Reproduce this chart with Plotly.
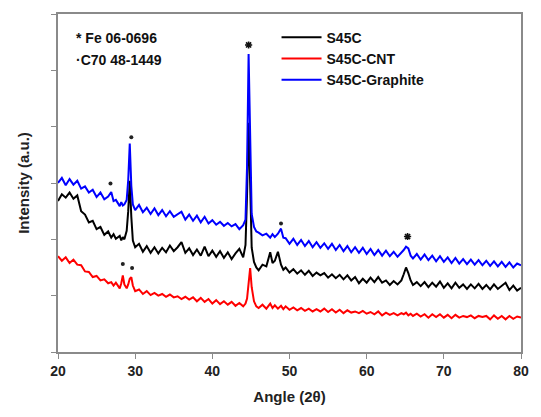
import plotly.graph_objects as go

# Diffraction angle grid (2-theta, degrees), denser around reflections
angle = [20.0, 20.5, 21.0, 21.5, 22.0, 22.5, 23.0, 23.5, 24.0, 24.5,
         25.0, 25.5, 26.0, 26.5, 26.9, 27.2, 27.5, 28.0, 28.2, 28.4,
         28.6, 28.9, 29.1, 29.3, 29.5, 29.7, 30.0, 30.5, 31.0, 31.5,
         32.0, 32.5, 33.0, 33.5, 34.0, 34.5, 35.0, 35.5, 36.0, 36.5,
         37.0, 37.5, 38.0, 38.5, 39.0, 39.5, 40.0, 40.5, 41.0, 41.5,
         42.0, 42.5, 43.0, 43.5, 44.0, 44.3, 44.5, 44.7, 44.9, 45.1,
         45.4, 45.7, 46.0, 46.5, 47.0, 47.5, 47.8, 48.1, 48.5, 48.9,
         49.2, 49.5, 50.0, 50.5, 51.0, 51.5, 52.0, 52.5, 53.0, 53.5,
         54.0, 54.5, 55.0, 55.5, 56.0, 56.5, 57.0, 57.5, 58.0, 58.5,
         59.0, 59.5, 60.0, 60.5, 61.0, 61.5, 62.0, 62.5, 63.0, 63.5,
         64.0, 64.5, 64.8, 65.1, 65.4, 65.7, 66.0, 66.5, 67.0, 67.5,
         68.0, 68.5, 69.0, 69.5, 70.0, 70.5, 71.0, 71.5, 72.0, 72.5,
         73.0, 73.5, 74.0, 74.5, 75.0, 75.5, 76.0, 76.5, 77.0, 77.5,
         78.0, 78.5, 79.0, 79.5, 80.0]

s45c = [2.68, 2.80, 2.74, 2.83, 2.72, 2.78, 2.50, 2.44, 2.30, 2.33,
        2.18, 2.22, 2.08, 2.14, 2.03, 2.09, 2.01, 2.06, 1.98, 2.04,
        2.00, 2.15, 2.50, 3.04, 2.40, 1.98, 1.86, 1.92, 1.78, 1.88,
        1.76, 1.86, 1.75, 1.85, 1.77, 1.89, 1.79, 1.86, 1.95, 1.76,
        1.84, 1.72, 1.82, 1.71, 1.87, 1.70, 1.80, 1.69, 1.79, 1.67,
        1.77, 1.65, 1.75, 1.83, 1.68, 1.90, 2.80, 4.07, 3.00, 1.85,
        1.60, 1.50, 1.45, 1.55, 1.52, 1.77, 1.58, 1.62, 1.78, 1.55,
        1.46, 1.50, 1.41, 1.47, 1.39, 1.45, 1.37, 1.44, 1.35, 1.41,
        1.36, 1.40, 1.32, 1.38, 1.31, 1.37, 1.29, 1.36, 1.27, 1.33,
        1.22, 1.30, 1.23, 1.32, 1.24, 1.33, 1.23, 1.27, 1.19, 1.26,
        1.20, 1.27, 1.38, 1.50, 1.40, 1.27, 1.19, 1.24, 1.17, 1.24,
        1.15, 1.23, 1.16, 1.25, 1.14, 1.22, 1.13, 1.23, 1.14, 1.20,
        1.12, 1.20, 1.13, 1.21, 1.12, 1.19, 1.11, 1.20, 1.12, 1.18,
        1.23, 1.10, 1.18, 1.09, 1.14]

s45c_cnt = [1.70, 1.62, 1.68, 1.58, 1.64, 1.55, 1.54, 1.43, 1.42, 1.33,
            1.35, 1.27, 1.29, 1.22, 1.24, 1.18, 1.23, 1.13, 1.22, 1.36,
            1.20, 1.13, 1.20, 1.30, 1.33, 1.18, 1.08, 1.11, 1.03, 1.08,
            1.01, 1.05, 1.00, 1.03, 0.98, 1.02, 0.97, 0.99, 0.94, 0.98,
            0.93, 0.97, 0.90, 0.96, 0.89, 0.94, 0.86, 0.92, 0.85, 0.90,
            0.84, 0.89, 0.82, 0.87, 0.81, 0.86, 0.95, 1.25, 1.49, 1.15,
            0.90, 0.81, 0.78, 0.84, 0.77, 0.86, 0.78, 0.83, 0.77, 0.82,
            0.76, 0.81, 0.75, 0.79, 0.74, 0.78, 0.73, 0.77, 0.72, 0.76,
            0.72, 0.77, 0.71, 0.76, 0.70, 0.75, 0.69, 0.74, 0.70, 0.72,
            0.69, 0.73, 0.68, 0.71, 0.67, 0.72, 0.65, 0.70, 0.66, 0.69,
            0.65, 0.69, 0.67, 0.70, 0.65, 0.68, 0.64, 0.68, 0.63, 0.67,
            0.61, 0.67, 0.62, 0.67, 0.61, 0.66, 0.60, 0.66, 0.61, 0.64,
            0.62, 0.65, 0.60, 0.64, 0.62, 0.64, 0.58, 0.65, 0.59, 0.64,
            0.58, 0.64, 0.59, 0.63, 0.61]

s45c_graphite = [3.00, 3.09, 2.96, 3.07, 2.97, 3.04, 2.90, 2.94, 2.83, 2.88,
                 2.75, 2.83, 2.71, 2.76, 2.84, 2.68, 2.70, 2.59, 2.66, 2.60,
                 2.62, 2.70, 3.05, 3.70, 2.95, 2.62, 2.52, 2.61, 2.48, 2.56,
                 2.45, 2.55, 2.43, 2.52, 2.41, 2.50, 2.40, 2.44, 2.49, 2.35,
                 2.44, 2.33, 2.42, 2.30, 2.40, 2.28, 2.34, 2.26, 2.31, 2.24,
                 2.29, 2.23, 2.27, 2.18, 2.25, 2.35, 3.30, 5.29, 3.60, 2.45,
                 2.22, 2.14, 2.12, 2.07, 2.10, 2.03, 2.09, 2.04, 2.10, 2.19,
                 2.03, 2.02, 1.92, 2.01, 1.90, 1.99, 1.88, 1.97, 1.86, 1.95,
                 1.85, 1.93, 1.83, 1.92, 1.81, 1.90, 1.79, 1.88, 1.77, 1.86,
                 1.76, 1.85, 1.74, 1.83, 1.72, 1.81, 1.71, 1.80, 1.70, 1.78,
                 1.69, 1.76, 1.81, 1.87, 1.84, 1.71, 1.66, 1.74, 1.64, 1.73,
                 1.63, 1.71, 1.61, 1.70, 1.60, 1.68, 1.58, 1.67, 1.57, 1.65,
                 1.56, 1.64, 1.55, 1.63, 1.54, 1.62, 1.53, 1.61, 1.52, 1.60,
                 1.51, 1.59, 1.50, 1.57, 1.54]

# Phase identification marks: Fe (asterisk) and C70 (dot)
fe_angle = [44.7, 65.3]
fe_level = [5.45, 2.05]
c70_angle = [26.8, 29.5, 48.9, 28.4, 29.6]
c70_level = [2.99, 3.81, 2.28, 1.56, 1.49]

x_ticks = [20, 30, 40, 50, 60, 70, 80]
y_ticks = [0, 1, 2, 3, 4, 5, 6]

FONT = "Liberation Sans, Arial, sans-serif"

fig = go.Figure()
fig.add_trace(go.Scatter(x=angle, y=s45c, mode="lines", name="S45C",
                         line=dict(color="#000000", width=2)))
fig.add_trace(go.Scatter(x=angle, y=s45c_cnt, mode="lines", name="S45C-CNT",
                         line=dict(color="#ff0000", width=2)))
fig.add_trace(go.Scatter(x=angle, y=s45c_graphite, mode="lines", name="S45C-Graphite",
                         line=dict(color="#0000ff", width=2)))
fig.add_trace(go.Scatter(x=fe_angle, y=fe_level, mode="markers", showlegend=False,
                         marker=dict(symbol="asterisk-open", size=6, color="#111111",
                                     line=dict(color="#111111", width=1.6))))
fig.add_trace(go.Scatter(x=c70_angle, y=c70_level, mode="markers", showlegend=False,
                         marker=dict(symbol="circle", size=4, color="#222222")))

axis_common = dict(showline=True, linecolor="#8a8a8a", linewidth=1.5, mirror=True,
                   ticks="outside", ticklen=5, tickcolor="#8a8a8a", tickwidth=1,
                   showgrid=False, zeroline=False)

fig.update_xaxes(range=[20, 80], tickvals=x_ticks,
                 tickfont=dict(family=FONT, size=14, color="#222222", weight="bold"),
                 title=dict(text="Angle (2θ)", standoff=14,
                            font=dict(family=FONT, size=15, color="#222222", weight="bold")),
                 **axis_common)
fig.update_yaxes(range=[0, 6], tickvals=y_ticks, showticklabels=False,
                 title=dict(text="Intensity (a.u.)", standoff=18,
                            font=dict(family=FONT, size=15, color="#222222", weight="bold")),
                 **axis_common)

fig.add_annotation(xref="paper", yref="paper", x=0.034, y=0.929, xanchor="left",
                   yanchor="middle", showarrow=False, text="* Fe 06-0696",
                   font=dict(family=FONT, size=14, color="#111111", weight="bold"))
fig.add_annotation(xref="paper", yref="paper", x=0.034, y=0.864, xanchor="left",
                   yanchor="middle", showarrow=False, text="·C70 48-1449",
                   font=dict(family=FONT, size=14, color="#111111", weight="bold"))

fig.update_layout(
    width=541, height=417,
    margin=dict(l=58, r=14, t=13, b=65),
    paper_bgcolor="white", plot_bgcolor="white",
    legend=dict(x=0.472, y=0.977, xanchor="left", yanchor="top", itemwidth=40,
                bgcolor="rgba(0,0,0,0)", borderwidth=0, tracegroupgap=0,
                font=dict(family=FONT, size=14, color="#111111", weight="bold")),
    showlegend=True,
)

fig.write_html("out.html")
